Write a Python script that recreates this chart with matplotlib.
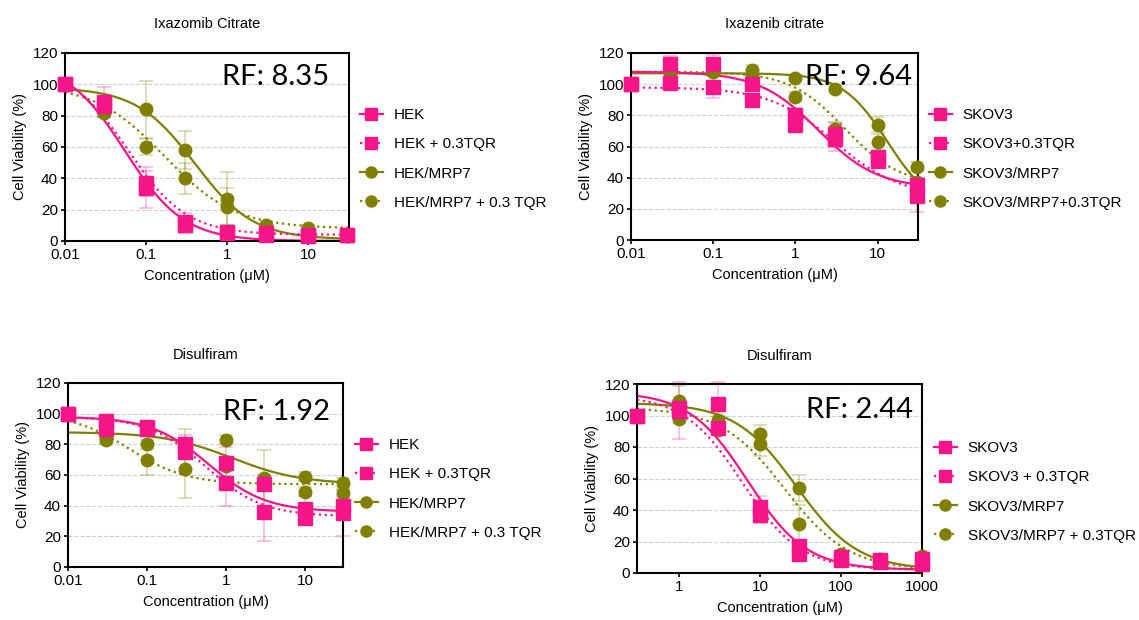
import matplotlib
matplotlib.use("Agg")
import matplotlib.pyplot as plt
from matplotlib.lines import Line2D
import numpy as np

plt.rcParams['font.family'] = ['Liberation Sans', 'DejaVu Sans']

PINK = '#F7158A'
OLIVE = '#7F7F00'

# ---- panel A: Ixazomib Citrate, HEK ----
conc_a = [0.01, 0.03, 0.1, 0.3, 1, 3, 10, 30]
hek_a = [100, 89, 37, 12, 6, 5, 4, 4]
hek_a_err = [0, 9, 8, 6, 3, 2, 2, 2]
hek_tqr_a = [100, 86, 34, 10, 5, 4, 3, 4]
hek_tqr_a_err = [0, 6, 13, 5, 3, 2, 2, 2]
mrp7_a = [100, 83, 84, 58, 27, 10, 8, 3]
mrp7_a_err = [0, 4, 18, 12, 17, 3, 2, 2]
mrp7_tqr_a = [100, 82, 60, 40, 22, 8, 6, 3]
mrp7_tqr_a_err = [0, 3, 5, 10, 12, 3, 2, 2]
# 4PL fit parameters: top, bottom, IC50, hill
fit_a = [[115, 0, 0.055, 1.2], [112, 4, 0.06, 1.2], [98, 1, 0.4, 1.2], [100, 8, 0.17, 1.0]]
labels_a = ['HEK', 'HEK + 0.3TQR', 'HEK/MRP7', 'HEK/MRP7 + 0.3 TQR']

# ---- panel B: Ixazenib citrate, SKOV3 ----
conc_b = [0.01, 0.03, 0.1, 0.3, 1, 3, 10, 30]
skov_b = [100, 113, 113, 100, 80, 68, 53, 35]
skov_b_err = [0, 5, 6, 3, 5, 8, 3, 5]
skov_tqr_b = [100, 101, 98, 90, 74, 65, 51, 28]
skov_tqr_b_err = [0, 3, 7, 3, 4, 8, 3, 10]
mrp7_b = [100, 104, 110, 109, 104, 97, 74, 47]
mrp7_b_err = [0, 3, 3, 3, 2, 2, 5, 3]
mrp7_tqr_b = [100, 105, 108, 106, 92, 71, 63, 37]
mrp7_tqr_b_err = [0, 3, 3, 3, 3, 4, 5, 3]
fit_b = [[108, 33, 1.9, 1.2], [98, 28, 3.0, 1.1], [107, 20, 13, 1.6], [108, 35, 4.0, 1.3]]
labels_b = ['SKOV3', 'SKOV3+0.3TQR', 'SKOV3/MRP7', 'SKOV3/MRP7+0.3TQR']

# ---- panel C: Disulfiram, HEK ----
conc_c = [0.01, 0.03, 0.1, 0.3, 1, 3, 10, 30]
hek_c = [100, 95, 91, 80, 68, 54, 38, 40]
hek_c_err = [0, 3, 3, 6, 10, 4, 8, 6]
hek_tqr_c = [100, 90, 90, 75, 55, 36, 32, 35]
hek_tqr_c_err = [0, 3, 3, 4, 15, 19, 4, 15]
mrp7_c = [100, 83, 80, 76, 83, 58, 59, 55]
mrp7_c_err = [0, 3, 3, 14, 3, 18, 3, 3]
mrp7_tqr_c = [100, 84, 70, 64, 66, 57, 49, 48]
mrp7_tqr_c_err = [0, 3, 10, 19, 3, 3, 3, 3]
fit_c = [[98, 36, 0.6, 1.2], [98, 33, 0.55, 1.2], [88, 54, 1.2, 1.0], [100, 54, 0.06, 1.2]]
labels_c = ['HEK', 'HEK + 0.3TQR', 'HEK/MRP7', 'HEK/MRP7 + 0.3 TQR']

# ---- panel D: Disulfiram, SKOV3 ----
conc_d = [0.3, 1, 3, 10, 30, 100, 300, 1000]
skov_d = [100, 105, 107, 42, 17, 10, 8, 9]
skov_d_err = [0, 5, 14, 7, 3, 2, 2, 2]
skov_tqr_d = [100, 103, 92, 37, 12, 8, 7, 6]
skov_tqr_d_err = [0, 18, 4, 5, 3, 2, 2, 2]
mrp7_d = [100, 109, 97, 88, 54, 12, 9, 11]
mrp7_d_err = [0, 10, 3, 6, 8, 2, 2, 2]
mrp7_tqr_d = [100, 98, 91, 82, 31, 10, 8, 10]
mrp7_tqr_d_err = [0, 3, 3, 8, 12, 2, 2, 2]
fit_d = [[115, 2, 7.0, 1.2], [113, 2, 6.0, 1.2], [108, 2, 28, 1.15], [105, 2, 20, 1.1]]
labels_d = ['SKOV3', 'SKOV3 + 0.3TQR', 'SKOV3/MRP7', 'SKOV3/MRP7 + 0.3TQR']

W, H = 1139, 620


def four_pl(x, top, bottom, ic50, hill):
    return bottom + (top - bottom) / (1 + (x / ic50) ** hill)


def draw_panel(box, title, title_pad, conc, series, errs, fits, labels, xlim, xticks,
               rf, rf_pos, leg_xy):
    left, top, right, bottom = box
    ax = fig.add_axes([left / W, 1 - bottom / H, (right - left) / W, (bottom - top) / H])
    ax.set_xscale('log')
    ax.set_xlim(*xlim)
    ax.set_ylim(0, 120)
    colors = [PINK, PINK, OLIVE, OLIVE]
    markers = ['s', 's', 'o', 'o']
    styles = ['-', ':', '-', ':']
    xs = np.logspace(np.log10(xlim[0]), np.log10(xlim[1]), 300)
    # olive series underneath, pink on top
    for i in [2, 3, 0, 1]:
        ax.errorbar(conc, series[i], yerr=errs[i], fmt='none', ecolor=colors[i],
                    alpha=0.3, elinewidth=1.2, capsize=5, capthick=1.2, zorder=2,
                    clip_on=False)
        ax.plot(conc, series[i], linestyle='none', marker=markers[i], color=colors[i],
                markersize=10 if markers[i] == 's' else 9, zorder=3, clip_on=False)
        ax.plot(xs, four_pl(xs, *fits[i]), linestyle=styles[i], color=colors[i],
                linewidth=1.6, zorder=2.5)
    ax.set_xticks(xticks)
    ax.set_xticklabels([('%g' % t) for t in xticks])
    ax.minorticks_off()
    ax.set_yticks(range(0, 121, 20))
    ax.yaxis.grid(True, linestyle='--', color='#d0d0d0', linewidth=0.8)
    ax.set_axisbelow(True)
    for s in ax.spines.values():
        s.set_linewidth(1.5)
    ax.tick_params(direction='out', length=3, width=1.2, labelsize=11, pad=2)
    ax.set_xlabel('Concentration (\u03bcM)', fontsize=10.5, labelpad=5)
    ax.set_ylabel('Cell Viability (%)', fontsize=10.5, labelpad=4)
    ax.set_title(title, fontsize=10.5, pad=title_pad)
    ax.text(rf_pos[0], rf_pos[1], rf, transform=ax.transAxes, ha='left', va='center',
            fontsize=21, family='Lato', zorder=10)
    handles = [Line2D([], [], color=colors[i], linestyle=styles[i], marker=markers[i],
                      markersize=9 if markers[i] == 's' else 8, linewidth=1.6)
               for i in range(4)]
    fig.legend(handles, labels, loc='upper left',
               bbox_to_anchor=(leg_xy[0] / W, 1 - leg_xy[1] / H),
               frameon=False, fontsize=11, handlelength=1.5, handletextpad=0.7,
               labelspacing=1.0, borderpad=0, borderaxespad=0)
    return ax


fig = plt.figure(figsize=(W / 100, H / 100), dpi=100)

draw_panel((65, 53, 349, 241), 'Ixazomib Citrate', 18, conc_a,
           [hek_a, hek_tqr_a, mrp7_a, mrp7_tqr_a],
           [hek_a_err, hek_tqr_a_err, mrp7_a_err, mrp7_tqr_a_err],
           fit_a, labels_a, (0.01, 32), [0.01, 0.1, 1, 10],
           'RF: 8.35', (0.553, 0.87), (360, 108))

draw_panel((631, 53, 918, 240), 'Ixazenib citrate', 18, conc_b,
           [skov_b, skov_tqr_b, mrp7_b, mrp7_tqr_b],
           [skov_b_err, skov_tqr_b_err, mrp7_b_err, mrp7_tqr_b_err],
           fit_b, labels_b, (0.01, 31), [0.01, 0.1, 1, 10],
           'RF: 9.64', (0.606, 0.87), (929, 108))

draw_panel((68, 383, 343, 567), 'Disulfiram', 17, conc_c,
           [hek_c, hek_tqr_c, mrp7_c, mrp7_tqr_c],
           [hek_c_err, hek_tqr_c_err, mrp7_c_err, mrp7_tqr_c_err],
           fit_c, labels_c, (0.01, 30), [0.01, 0.1, 1, 10],
           'RF: 1.92', (0.564, 0.845), (355, 438))

draw_panel((637, 384, 922, 573), 'Disulfiram', 17, conc_d,
           [skov_d, skov_tqr_d, mrp7_d, mrp7_tqr_d],
           [skov_d_err, skov_tqr_d_err, mrp7_d_err, mrp7_tqr_d_err],
           fit_d, labels_d, (0.3, 1000), [1, 10, 100, 1000],
           'RF: 2.44', (0.593, 0.862), (934, 441))

fig.savefig('out.png', dpi=100)
